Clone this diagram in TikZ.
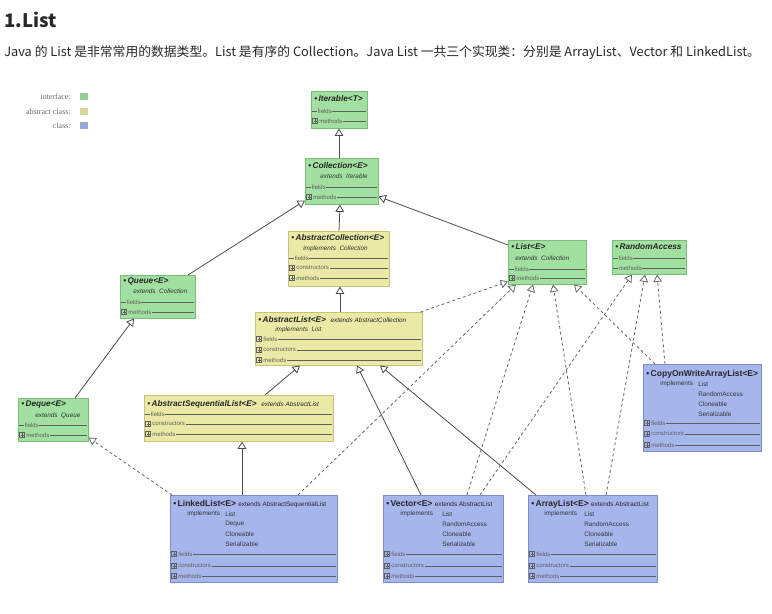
\documentclass[tikz,border=0pt]{standalone}
\usepackage{fontspec}
\setmainfont{Liberation Sans}
\newfontfamily\cjkcond{Noto Sans CJK SC}
\newfontfamily\legfont{Liberation Serif}
\usetikzlibrary{calc,arrows.meta}
\definecolor{ifill}{RGB}{162,224,162}
\definecolor{idraw}{RGB}{120,190,120}
\definecolor{afill}{RGB}{234,234,166}
\definecolor{adraw}{RGB}{196,196,120}
\definecolor{cfill}{RGB}{166,182,236}
\definecolor{cdraw}{RGB}{125,140,205}
\definecolor{edgec}{RGB}{75,75,75}
\definecolor{rowc}{RGB}{95,95,95}
\definecolor{hdr}{RGB}{40,40,40}
\definecolor{legc}{RGB}{105,105,105}
\tikzset{
  ifc/.style={draw=idraw, fill=ifill, inner sep=0, anchor=north west},
  abc/.style={draw=adraw, fill=afill, inner sep=0, anchor=north west},
  clc/.style={draw=cdraw, fill=cfill, inner sep=0, anchor=north west},
  ttlI/.style={anchor=west, inner sep=0, font=\fontsize{6.2}{7}\selectfont\bfseries\itshape, text=black!85},
  ttlC/.style={anchor=west, inner sep=0, font=\fontsize{6.4}{7}\selectfont\bfseries, text=black!85},
  sub/.style={anchor=west, inner sep=0, font=\fontsize{4.8}{5.5}\selectfont, text=black!80},
  subI/.style={sub, font=\fontsize{4.8}{5.5}\selectfont\itshape},
  rowlbl/.style={anchor=west, inner sep=0.4pt, font=\fontsize{4.5}{5}\selectfont, text=rowc},
  rowln/.style={draw=rowc, line width=0.4pt},
  pbx/.style={draw=rowc, line width=0.35pt},
  gen/.style={draw=edgec, line width=0.6pt, -{Triangle[length=5.5pt, width=6.5pt, fill=white]}},
  impl/.style={gen, draw=edgec!85, dash pattern=on 2.2pt off 2pt},
  legtxt/.style={anchor=east, inner sep=0, font=\legfont\fontsize{6}{7}\selectfont, text=legc},
}
\newcommand{\umlbox}[6]{\node[#6, minimum width=#4*0.75pt, minimum height=#5*0.75pt] (#1) at (#2,#3) {};}
\newcommand{\frow}[4]{%
  \draw[rowln] ($(#1.north west)+(1,#2)$) -- ($(#1.north east)+(-2,#2)$);
  \node[rowlbl, fill=#4] at ($(#1.north west)+(6,#2)$) {#3};}
\newcommand{\prow}[4]{%
  \draw[rowln] ($(#1.north west)+(8,#2)$) -- ($(#1.north east)+(-2,#2)$);
  \draw[pbx] ($(#1.north west)+(1.5,#2-2.5)$) rectangle ($(#1.north west)+(6.5,#2+2.5)$);
  \draw[pbx] ($(#1.north west)+(2.5,#2)$) -- ($(#1.north west)+(5.5,#2)$) ($(#1.north west)+(4,#2-1.6)$) -- ($(#1.north west)+(4,#2+1.6)$);
  \node[rowlbl, fill=#4] at ($(#1.north west)+(7.5,#2)$) {#3};}
\begin{document}
\begin{tikzpicture}[x=0.75pt,y=-0.75pt]
\fill[white] (0,0) rectangle (772,614);
\useasboundingbox (0,0) rectangle (772,614);
% header
\node[anchor=west, inner sep=0, font=\cjkcond\bfseries\fontsize{14}{16}\selectfont, text=hdr] (h1) at (4,20) {1.List};
\node[anchor=west, inner sep=0, font=\cjkcond\fontsize{9.6}{11}\selectfont, text=hdr] (desc) at (4,53) {Java 的 List 是非常常用的数据类型。List 是有序的 Collection。Java List 一共三个实现类：分别是 ArrayList、Vector 和 LinkedList。};
% legend
\node[legtxt] (l1) at (71,97) {interface:};
\node[legtxt] (l2) at (71,112) {abstract class:};
\node[legtxt] (l3) at (71,126) {class:};
\fill[ifill!92!black] (80,93) rectangle (88,100);
\fill[afill!92!black] (80,108) rectangle (88,115);
\fill[cfill!92!black] (80,122) rectangle (88,129);
% boxes
\umlbox{iter}{311}{91}{56}{37}{ifc}
\node[ttlI] at ($(iter.north west)+(3,8)$) {\textbullet\,Iterable<T>};
\frow{iter}{20}{fields}{ifill}
\prow{iter}{30}{methods}{ifill}

\umlbox{coll}{305}{158}{73}{46}{ifc}
\node[ttlI] at ($(coll.north west)+(3,8)$) {\textbullet\,Collection<E>};
\node[subI] at ($(coll.north west)+(15,18)$) {extends\ \ Iterable};
\frow{coll}{29}{fields}{ifill}
\prow{coll}{39}{methods}{ifill}

\umlbox{acoll}{288}{231}{101}{55}{abc}
\node[ttlI] at ($(acoll.north west)+(3,7)$) {\textbullet\,AbstractCollection<E>};
\node[subI] at ($(acoll.north west)+(15,18)$) {implements\ \ Collection};
\frow{acoll}{27}{fields}{afill}
\prow{acoll}{37}{constructors}{afill}
\prow{acoll}{47}{methods}{afill}

\umlbox{list}{508}{240}{78}{44}{ifc}
\node[ttlI] at ($(list.north west)+(3,7)$) {\textbullet\,List<E>};
\node[subI] at ($(list.north west)+(7,18)$) {extends\ \ Collection};
\frow{list}{29}{fields}{ifill}
\prow{list}{38}{methods}{ifill}

\umlbox{ra}{612}{240}{74}{34}{ifc}
\node[ttlI] at ($(ra.north west)+(3,7)$) {\textbullet\,RandomAccess};
\frow{ra}{18}{fields}{ifill}
\frow{ra}{28}{methods}{ifill}

\umlbox{queue}{120}{275}{75}{43}{ifc}
\node[ttlI] at ($(queue.north west)+(3,6)$) {\textbullet\,Queue<E>};
\node[subI] at ($(queue.north west)+(13,16)$) {extends\ \ Collection};
\frow{queue}{27}{fields}{ifill}
\prow{queue}{37}{methods}{ifill}

\umlbox{alist}{255}{312}{167}{53}{abc}
\node[ttlI] at ($(alist.north west)+(3,8)$) {\textbullet\,AbstractList<E>\ \ {\fontsize{4.8}{5.5}\selectfont\mdseries extends AbstractCollection}};
\node[subI] at ($(alist.north west)+(20,18)$) {implements\ \ List};
\prow{alist}{27}{fields}{afill}
\prow{alist}{38}{constructors}{afill}
\prow{alist}{48}{methods}{afill}

\umlbox{deque}{18}{398}{70}{43}{ifc}
\node[ttlI] at ($(deque.north west)+(3,7)$) {\textbullet\,Deque<E>};
\node[subI] at ($(deque.north west)+(17,18)$) {extends\ \ Queue};
\frow{deque}{27}{fields}{ifill}
\prow{deque}{37}{methods}{ifill}

\umlbox{asl}{144}{395}{189}{46}{abc}
\node[ttlI] at ($(asl.north west)+(3,9)$) {\textbullet\,AbstractSequentialList<E>\ \ {\fontsize{4.8}{5.5}\selectfont\mdseries extends AbstractList}};
\frow{asl}{19}{fields}{afill}
\prow{asl}{29}{constructors}{afill}
\prow{asl}{39}{methods}{afill}

\umlbox{cow}{643}{364}{118}{87}{clc}
\node[ttlC] at ($(cow.north west)+(3,10)$) {\textbullet\,CopyOnWriteArrayList<E>};
\node[sub] at ($(cow.north west)+(17,20)$) {implements};
\node[sub] at ($(cow.north west)+(55,20)$) {List};
\node[sub] at ($(cow.north west)+(55,30)$) {RandomAccess};
\node[sub] at ($(cow.north west)+(55,40)$) {Cloneable};
\node[sub] at ($(cow.north west)+(55,50)$) {Serializable};
\prow{cow}{59}{fields}{cfill}
\prow{cow}{70}{constructors}{cfill}
\prow{cow}{81}{methods}{cfill}

\umlbox{linked}{170}{495}{167}{87}{clc}
\node[ttlC] at ($(linked.north west)+(3,9)$) {\textbullet\,LinkedList<E>\ {\fontsize{4.8}{5.5}\selectfont\mdseries extends AbstractSequentialList}};
\node[sub] at ($(linked.north west)+(17,19)$) {implements};
\node[sub] at ($(linked.north west)+(55,19)$) {List};
\node[sub] at ($(linked.north west)+(55,29)$) {Deque};
\node[sub] at ($(linked.north west)+(55,39)$) {Cloneable};
\node[sub] at ($(linked.north west)+(55,49)$) {Serializable};
\prow{linked}{59}{fields}{cfill}
\prow{linked}{71}{constructors}{cfill}
\prow{linked}{81}{methods}{cfill}

\umlbox{vector}{383}{495}{120}{87}{clc}
\node[ttlC] at ($(vector.north west)+(3,9)$) {\textbullet\,Vector<E>\ {\fontsize{4.8}{5.5}\selectfont\mdseries extends AbstractList}};
\node[sub] at ($(vector.north west)+(17,19)$) {implements};
\node[sub] at ($(vector.north west)+(59,19)$) {List};
\node[sub] at ($(vector.north west)+(59,29)$) {RandomAccess};
\node[sub] at ($(vector.north west)+(59,39)$) {Cloneable};
\node[sub] at ($(vector.north west)+(59,49)$) {Serializable};
\prow{vector}{59}{fields}{cfill}
\prow{vector}{71}{constructors}{cfill}
\prow{vector}{81}{methods}{cfill}

\umlbox{arrayl}{528}{495}{129}{87}{clc}
\node[ttlC] at ($(arrayl.north west)+(3,9)$) {\textbullet\,ArrayList<E>\ {\fontsize{4.8}{5.5}\selectfont\mdseries extends AbstractList}};
\node[sub] at ($(arrayl.north west)+(16,19)$) {implements};
\node[sub] at ($(arrayl.north west)+(56,19)$) {List};
\node[sub] at ($(arrayl.north west)+(56,29)$) {RandomAccess};
\node[sub] at ($(arrayl.north west)+(56,39)$) {Cloneable};
\node[sub] at ($(arrayl.north west)+(56,49)$) {Serializable};
\prow{arrayl}{59}{fields}{cfill}
\prow{arrayl}{71}{constructors}{cfill}
\prow{arrayl}{81}{methods}{cfill}

% generalisation edges
\draw[gen] ($(coll.north west)+(34,0)$) -- ($(iter.south west)+(28,0)$);
\draw[gen] ($(acoll.north west)+(51,0)$) -- ($(coll.south west)+(35,0)$);
\draw[gen] ($(queue.north west)+(68,0)$) -- ($(coll.south west)+(0,-4)$);
\draw[gen] ($(list.north west)+(0,5)$) -- ($(coll.south east)+(0,-8)$);
\draw[gen] ($(alist.north west)+(85,0)$) -- ($(acoll.south west)+(52,0)$);
\draw[gen] ($(deque.north west)+(57,0)$) -- ($(queue.south west)+(14,0)$);
\draw[gen] ($(asl.north west)+(121,0)$) -- ($(alist.south west)+(45,0)$);
\draw[gen] ($(linked.north west)+(72,0)$) -- ($(asl.south west)+(98,0)$);
\draw[gen] ($(vector.north west)+(38,0)$) -- ($(alist.south west)+(102,0)$);
\draw[gen] ($(arrayl.north west)+(8,0)$) -- ($(alist.south west)+(125,0)$);
% realisation edges
\draw[impl] ($(alist.north east)+(-2,0)$) -- ($(list.south west)+(0,-3)$);
\draw[impl] ($(linked.north west)+(2,0)$) -- ($(deque.south east)+(0,-4)$);
\draw[impl] ($(linked.north west)+(128,0)$) -- ($(list.south west)+(8,0)$);
\draw[impl] ($(vector.north west)+(84,0)$) -- ($(list.south west)+(25,0)$);
\draw[impl] ($(vector.north west)+(97,0)$) -- ($(ra.south west)+(20,0)$);
\draw[impl] ($(arrayl.north west)+(58,0)$) -- ($(list.south west)+(45,0)$);
\draw[impl] ($(arrayl.north west)+(78,0)$) -- ($(ra.south west)+(33,0)$);
\draw[impl] ($(cow.north west)+(12,0)$) -- ($(list.south west)+(66,0)$);
\draw[impl] ($(cow.north west)+(22,0)$) -- ($(ra.south west)+(45,0)$);
\end{tikzpicture}
\end{document}
